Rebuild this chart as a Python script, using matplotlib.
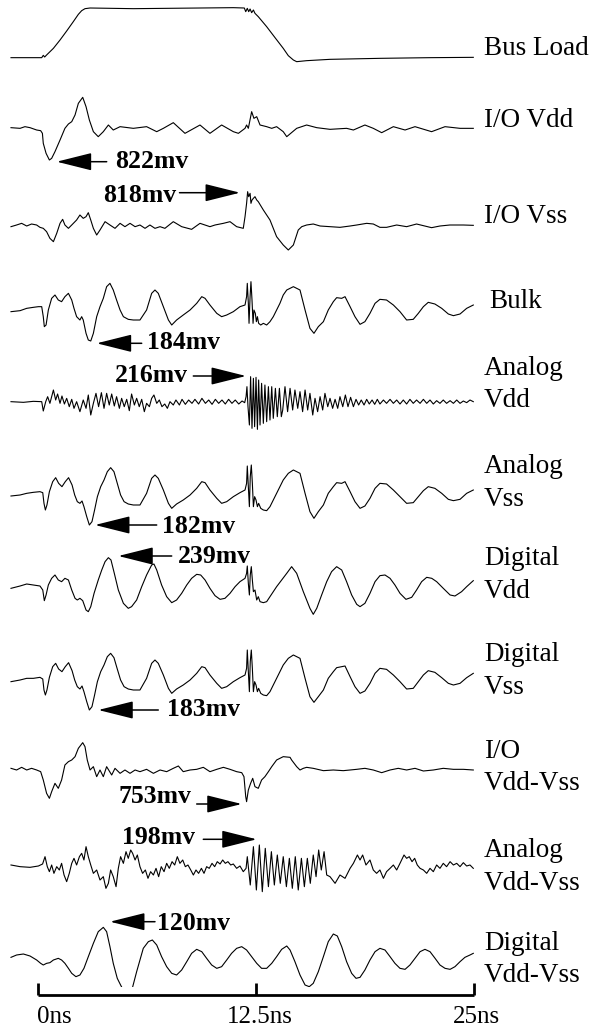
import matplotlib
matplotlib.use('Agg')
import matplotlib.pyplot as plt
from matplotlib.patches import Rectangle

# ---- data: time (ns) and relative amplitude ----
BUS_T = [-1.53, 0.23, 0.32, 0.40, 0.51, 0.90, 1.28, 1.66, 2.04, 2.33, 2.52, 2.71, 3.00, 5.48, 7.39, 9.30, 11.21, 11.84, 11.92, 12.01,
         12.09, 12.17, 12.26, 12.36, 12.45, 12.64, 13.12, 13.60, 14.07, 14.36, 14.65, 14.84, 15.41, 16.75, 19.61, 22.48, 24.96]
BUS_V = [0, 0, 7, 2, 8, 28, 53, 80, 108, 130, 141, 147, 149, 147, 148, 149, 150, 149, 138, 148,
         138, 146, 135, 143, 133, 123, 93, 60, 28, 6, -7, -12, -9, -5, -2, 0, 1]

IOVDD_T = [-1.53, -1.01, -0.73, -0.44, -0.06, 0.17, 0.27, 0.32, 0.48, 0.67, 0.80, 0.99, 1.28, 1.56, 1.76, 1.95, 2.14, 2.33, 2.58, 2.77,
           2.96, 3.19, 3.47, 3.76, 4.05, 4.33, 4.72, 5.48, 6.24, 6.82, 7.20, 7.77, 8.44, 9.30, 9.87, 10.54, 11.21, 11.50, 11.88, 11.97,
           12.07, 12.26, 12.39, 12.55, 12.74, 13.12, 13.41, 13.69, 14.07, 14.27, 14.84, 15.41, 15.99, 16.75, 17.70, 18.09, 18.75, 19.23,
           19.71, 20.38, 21.05, 21.62, 22.57, 23.34, 24.20, 24.96]
IOVDD_V = [0, -2, 3, 0, -7, -9, -17, -47, -77, -97, -92, -72, -37, -2, 11, 18, 38, 73, 91, 63,
           23, -12, -27, -12, 8, -7, 3, -2, 3, -12, -2, 15, -17, 8, -17, 8, -12, -17, -2, 8,
           -2, 48, 28, 33, 8, 3, -2, 3, -12, -27, -2, 8, 0, -5, -2, -7, 8, -2,
           -15, 3, -7, 3, -12, 3, -2, -2]

IOVSS_T = [-1.53, -1.21, -0.92, -0.63, -0.35, -0.06, 0.13, 0.32, 0.51, 0.70, 0.90, 1.09, 1.28, 1.43, 1.56, 1.76, 1.95, 2.23, 2.42, 2.61,
           2.77, 2.90, 3.04, 3.19, 3.38, 3.57, 3.86, 4.14, 4.43, 4.72, 5.00, 5.29, 5.58, 5.86, 6.15, 6.43, 6.72, 7.01, 7.29, 7.77,
           8.25, 8.82, 9.30, 9.87, 10.16, 10.64, 11.02, 11.40, 11.78, 11.88, 11.97, 12.03, 12.09, 12.17, 12.22, 12.28, 12.36, 12.45, 12.55, 12.64,
           12.93, 13.31, 13.69, 14.07, 14.36, 14.65, 14.93, 15.13, 15.41, 15.79, 16.18, 16.75, 17.32, 17.90, 18.28, 18.85, 19.23, 19.61, 19.99, 20.57,
           21.14, 21.71, 22.10, 22.57, 23.05, 23.62, 24.39, 24.96]
IOVSS_V = [0, 5, 10, 2, 8, 5, -2, -5, -15, -35, -45, -20, 10, 22, 5, -5, 5, 20, 35, 25,
           30, 42, 20, -5, -25, -10, 15, 5, -5, 10, 0, 10, 0, 5, -5, 5, -5, 0, -5, 15,
           0, -8, 10, 0, 5, 10, 15, 0, -5, 30, 70, 105, 90, 100, 70, 80, 85, 90, 80, 75,
           50, 20, -30, -55, -70, -55, -10, 0, 5, 8, 2, 0, -2, 2, 5, 10, 8, -2, -2, 5,
           0, 8, 3, -3, 2, 5, 5, 4]

BULK_T = [-1.53, -1.01, -0.63, -0.25, 0.04, 0.23, 0.32, 0.38, 0.48, 0.61, 0.80, 0.99, 1.18, 1.37, 1.56, 1.76, 1.95, 2.08, 2.23, 2.42,
          2.52, 2.61, 2.77, 2.90, 3.04, 3.19, 3.38, 3.57, 3.76, 3.95, 4.14, 4.33, 4.52, 4.72, 4.91, 5.19, 5.48, 5.86, 6.24, 6.53,
          6.72, 6.91, 7.20, 7.49, 7.68, 7.96, 8.34, 8.73, 9.11, 9.40, 9.59, 9.87, 10.26, 10.54, 10.83, 11.21, 11.59, 11.88, 11.97, 12.01,
          12.07, 12.11, 12.17, 12.22, 12.28, 12.34, 12.39, 12.47, 12.53, 12.59, 12.66, 12.78, 12.93, 13.12, 13.31, 13.50, 13.69, 13.88, 14.07, 14.27,
          14.65, 15.03, 15.32, 15.60, 15.83, 16.08, 16.37, 16.65, 16.94, 17.13, 17.42, 17.61, 17.90, 18.18, 18.47, 18.75, 19.04, 19.33, 19.61, 19.99,
          20.38, 20.76, 21.14, 21.52, 21.81, 22.10, 22.38, 22.76, 23.15, 23.53, 23.82, 24.20, 24.58, 24.96]
BULK_V = [0, 3, 10, 13, 15, 15, -15, -45, -40, 5, 40, 50, 35, 30, 45, 55, 35, 10, -15, -25,
          -15, -25, -65, -85, -88, -65, -15, 15, 40, 75, 85, 65, 35, 5, -15, -23, -25, -25, 5, 55,
          65, 55, 15, -25, -40, -25, -10, 5, 25, 45, 40, 20, -5, -15, -10, 0, 15, 20, 45, 85,
          25, -35, 45, 90, 35, -35, 5, -5, -30, -15, -35, -40, -35, -40, -30, -15, 5, 25, 50, 65,
          75, 65, 5, -50, -65, -45, -30, 5, 30, 42, 40, 45, 15, -15, -38, -30, -5, 25, 37, 35,
          20, 0, -25, -23, -5, 15, 28, 23, 10, -7, -12, -7, 10, 20]

AVDD_T = [-1.53, -0.82, -0.25, 0.23, 0.32, 0.46, 0.57, 0.70, 0.90, 1.03, 1.14, 1.28, 1.39, 1.53, 1.66, 1.81, 1.95, 2.08, 2.23, 2.42,
          2.61, 2.77, 2.90, 3.04, 3.19, 3.34, 3.49, 3.65, 3.80, 3.95, 4.10, 4.24, 4.39, 4.52, 4.68, 4.81, 4.96, 5.10, 5.25, 5.38,
          5.54, 5.67, 5.82, 5.96, 6.11, 6.24, 6.40, 6.53, 6.66, 6.82, 6.97, 7.12, 7.28, 7.43, 7.58, 7.77, 7.92, 8.12, 8.27, 8.46,
          8.65, 8.84, 9.01, 9.22, 9.41, 9.61, 9.80, 9.99, 10.18, 10.37, 10.56, 10.75, 10.94, 11.13, 11.32, 11.52, 11.71, 11.86, 11.94, 11.99,
          12.05, 12.13, 12.20, 12.28, 12.36, 12.43, 12.51, 12.59, 12.66, 12.74, 12.83, 12.93, 13.02, 13.12, 13.22, 13.31, 13.41, 13.50, 13.62, 13.73,
          13.85, 13.96,
          14.04, 14.17, 14.32, 14.46, 14.61, 14.74, 14.90, 15.03, 15.18, 15.32, 15.47, 15.60, 15.76, 15.89, 16.04, 16.18, 16.33, 16.46, 16.62, 16.75,
          16.90, 17.04, 17.19, 17.32, 17.48, 17.63, 17.78, 17.93, 18.09, 18.24, 18.39, 18.54, 18.70, 18.85, 19.00, 19.16, 19.31, 19.46, 19.61, 19.81,
          19.99, 20.19, 20.38, 20.57, 20.76, 20.95, 21.14, 21.33, 21.52, 21.71, 21.91, 22.10, 22.29, 22.48, 22.67, 22.86, 23.05, 23.24, 23.43, 23.63,
          23.82, 24.01, 24.20, 24.39, 24.58, 24.77, 24.96]
AVDD_V = [0, -2, 1, 0, -28, 0, 15, -5, 35, 5, 23, -5, 17, -7, 10, -15, 7, -20, 0, -30,
          5, -20, 20, -40, -5, 25, -15, 27, -20, 25, -10, 23, -13, 15, -20, 10, -15, 7, -27, 23,
          -10, 10, -15, 7, -30, -5, -15, 10, 20, -5, 5, -15, -7, -20, 0, -10, 5, -10, 7, -8,
          5, -5, 7, -7, 10, -5, 5, -8, 7, -5, 5, -7, 7, -5, 5, -7, 2, -3, 15, 45,
          -15, -70, 75, -80, 70, -75, 73, -83, 65, -70, 55, -65, 50, -60, 45, -55, 45, -50, 40, -45,
          40, -45,
          -25, 45, -30, 40, -25, 35, -20, 30, -30, 35, -25, 25, -40, 10, -30, 15, -25, 25, -15, 10,
          -20, 7, -20, 15, -15, 20, -15, 13, -15, 7, -10, 5, -10, 7, -7, 5, -8, 7, -7, 5,
          -5, 7, -5, 5, -7, 5, -7, 7, -5, 5, -5, 7, -5, 5, -7, 3, -5, 5, -5, 3,
          -5, 5, -5, 2, -3, 5, 0]

# Analog Vss and Digital Vss share the same sample times
VSS_T = [-1.53, -1.01, -0.63, -0.25, 0.13, 0.29, 0.36, 0.44, 0.53, 0.67, 0.86, 1.03, 1.20, 1.39, 1.58, 1.77, 1.97, 2.12, 2.27, 2.42,
         2.54, 2.65, 2.81, 2.96, 3.11, 3.26, 3.42, 3.61, 3.80, 3.99, 4.18, 4.37, 4.56, 4.75, 4.95, 5.19, 5.48, 5.86, 6.24, 6.53,
         6.72, 6.91, 7.20, 7.49, 7.68, 7.96, 8.34, 8.73, 9.11, 9.40, 9.59, 9.87, 10.26, 10.54, 10.83, 11.21, 11.59, 11.88, 11.97, 12.01,
         12.07, 12.13, 12.18, 12.24, 12.30, 12.36, 12.43, 12.51, 12.59, 12.66, 12.78, 12.93, 13.12, 13.31, 13.50, 13.69, 13.88, 14.07, 14.36,
         14.65, 15.03, 15.32, 15.60, 15.83, 16.08, 16.37, 16.65, 16.94, 17.13, 17.42, 17.61, 17.90, 18.18, 18.47, 18.75, 19.04, 19.33, 19.61, 19.99,
         20.38, 20.76, 21.14, 21.52, 21.81, 22.10, 22.38, 22.76, 23.15, 23.53, 23.82, 24.20, 24.58, 24.96]
AVSS_V = [0, 3, 8, 11, 13, 10, -22, -42, -27, 13, 43, 55, 38, 28, 43, 55, 33, 3, -17, -22,
          -15, -32, -62, -87, -77, -42, -2, 28, 48, 73, 85, 73, 38, 3, -17, -24, -27, -27, 8, 53,
          63, 53, 18, -22, -37, -24, -12, 3, 23, 43, 40, 18, -7, -22, -17, -2, 10, 18, 38, 90,
          28, -32, 58, 93, 38, -32, -2, -12, -32, -22, -37, -42, -44, -32, -12, 8, 28, 48, 68,
          78, 68, 8, -47, -67, -47, -27, 8, 28, 40, 38, 43, 13, -17, -37, -30, -7, 23, 38, 36,
          18, -2, -22, -20, -2, 16, 28, 23, 8, -10, -14, -10, 8, 18]
DVSS_V = [0, 5, 10, 10, 13, 8, -25, -40, -25, 13, 45, 55, 38, 30, 45, 57, 33, 5, -15, -22,
          -13, -30, -60, -85, -75, -40, 0, 30, 50, 75, 85, 72, 38, 5, -15, -22, -25, -25, 10, 55,
          65, 55, 20, -20, -35, -22, -10, 5, 25, 45, 42, 20, -5, -20, -15, 0, 12, 20, 40, 95,
          30, -30, 60, 95, 40, -30, 0, -10, -30, -20, -35, -40, -42, -30, -10, 10, 30, 50, 70,
          80, 70, 10, -45, -62, -45, -25, 10, 30, 42, 45, 47, 15, -15, -35, -28, -5, 25, 40, 37,
          20, 0, -22, -20, 0, 20, 33, 28, 12, -5, -10, -5, 12, 25]

DVDD_T = [-1.53, -1.01, -0.63, -0.25, 0.13, 0.29, 0.38, 0.48, 0.61, 0.80, 0.99, 1.18, 1.37, 1.56, 1.76, 1.95, 2.14, 2.27, 2.42, 2.58,
          2.77, 2.90, 3.04, 3.23, 3.47, 3.67, 3.86, 4.05, 4.20, 4.39, 4.62, 4.91, 5.19, 5.38, 5.67, 5.96, 6.24, 6.53, 6.66, 6.82,
          7.10, 7.39, 7.68, 7.96, 8.25, 8.54, 8.82, 9.11, 9.34, 9.59, 9.87, 10.16, 10.45, 10.73, 11.02, 11.31, 11.59, 11.88, 11.97, 12.01,
          12.07, 12.13, 12.18, 12.24, 12.30, 12.36, 12.45, 12.55, 12.64, 12.74, 12.93, 13.12, 13.31, 13.50, 13.69, 13.98, 14.27,
          14.55, 14.84, 15.22, 15.60, 15.79, 15.99, 16.27, 16.56, 16.84, 17.13, 17.42, 17.70, 17.99, 18.28, 18.47, 18.75, 19.04, 19.33, 19.61, 19.90,
          20.19, 20.47, 20.76, 21.10, 21.43, 21.71, 22.00, 22.29, 22.58, 22.86, 23.24, 23.63, 23.91, 24.29, 24.58, 24.96]
DVDD_V = [-3, 4, 10, 7, 4, -8, -40, -23, 7, 27, 37, 22, 17, 27, 22, -8, -33, -38, -33, -40,
          -68, -73, -58, -18, 22, 52, 77, 89, 82, 42, -8, -48, -63, -58, -38, 2, 37, 67, 70, 52,
          7, -28, -46, -38, -18, 7, 27, 39, 37, 22, -3, -25, -36, -33, -18, 2, 17, 27, 42, 64,
          12, -23, 37, 62, 22, -13, -8, -38, -28, -43, -46, -43, -28, -13, 2, 22, 42,
          62, 42, -13, -63, -81, -63, -23, 17, 47, 62, 52, 17, -23, -51, -58, -48, -18, 17, 35, 37,
          27, 7, -18, -36, -30, -8, 17, 30, 27, 17, -3, -23, -26, -13, 2, 20]

IODIFF_T = [-1.53, -1.21, -0.92, -0.63, -0.35, -0.06, 0.17, 0.32, 0.51, 0.67, 0.80, 0.99, 1.18, 1.37, 1.56, 1.76, 1.95, 2.14, 2.33, 2.58,
            2.71, 2.84, 3.00, 3.19, 3.38, 3.57, 3.76, 3.95, 4.24, 4.43, 4.72, 5.00, 5.29, 5.58, 5.86, 6.24, 6.63, 7.01, 7.39, 7.77,
            8.06, 8.34, 8.73, 9.11, 9.49, 9.87, 10.26, 10.64, 11.02, 11.40, 11.69, 11.82, 11.92, 11.97, 12.07, 12.20, 12.32, 12.45, 12.64, 12.83,
            13.02, 13.22, 13.41, 13.69, 14.07, 14.46,
            14.55, 14.84, 15.03, 15.22, 15.41, 15.79, 16.37, 16.94, 17.51, 17.90, 18.28, 18.75, 19.23, 19.71, 20.19, 20.66, 21.14, 21.62, 22.10, 22.67,
            23.24, 23.82, 24.39, 24.96]
IODIFF_V = [0, -5, 3, -5, 0, -5, -10, -35, -75, -90, -70, -45, -60, -35, 10, 20, 25, 35, 60, 77,
            65, 25, -5, 5, -25, -5, -25, 5, -20, 0, -15, -5, -15, -5, -10, -3, -15, -5, -10, 0,
            7, -10, -5, -3, 3, -10, -3, 3, -3, -10, -13, -25, -85, -100, -65, -45, -30, -55, -60, -35,
            -25, -10, 5, 25, 35, 33,
            25, 5, -5, 0, 3, 0, -7, -5, -7, -5, -3, 0, -5, -13, -5, 0, -5, 0, -8, -5,
            0, -3, -3, -5]

ADIFF_T = [-1.53, -1.01, -0.44, 0.04, 0.28, 0.42, 0.55, 0.67, 0.80, 0.93, 1.09, 1.24, 1.37, 1.51, 1.66, 1.81, 1.95, 2.08, 2.23, 2.39,
           2.52, 2.65, 2.77, 2.90, 3.04, 3.19, 3.38, 3.57, 3.76, 3.91, 4.05, 4.18, 4.33, 4.49, 4.62, 4.75, 4.91, 5.06, 5.19, 5.33,
           5.44, 5.58, 5.71, 5.86, 6.01, 6.17, 6.32, 6.47, 6.63, 6.78, 6.93, 7.08, 7.24, 7.39, 7.54, 7.70, 7.85, 8.00, 8.15, 8.31,
           8.46, 8.61, 8.77, 8.92, 9.07, 9.22, 9.38, 9.53, 9.68, 9.83, 9.99, 10.14, 10.29, 10.45, 10.60, 10.75, 10.90, 11.06, 11.21, 11.40,
           11.59, 11.78, 11.94,
           12.01, 12.18, 12.36, 12.53, 12.70, 12.87, 13.04, 13.22, 13.39, 13.56, 13.73, 13.90, 14.07, 14.25, 14.42, 14.59, 14.76, 14.93,
           15.11, 15.28, 15.45, 15.62, 15.79, 15.95, 16.10, 16.25, 16.41, 16.56,
           16.75, 17.04, 17.32, 17.61, 17.90, 18.09, 18.32, 18.47, 18.62, 18.81, 19.04, 19.23, 19.42, 19.61, 19.81, 19.99, 20.19, 20.38, 20.57, 20.76,
           20.99, 21.14, 21.29, 21.45, 21.60, 21.75, 21.91, 22.10, 22.29, 22.48, 22.67, 22.86, 23.05, 23.24, 23.43, 23.63, 23.82, 24.01, 24.20, 24.39,
           24.58, 24.77, 24.96]
ADIFF_V = [0, -5, -7, -3, 3, 25, -5, -20, 0, -25, -5, -15, 5, -30, -50, -25, 5, 20, 0, 25,
           35, 15, 55, 25, 0, -25, -15, -45, -35, -70, -55, -15, -35, -65, -10, 25, 5, 40, 20, 45,
           35, 15, 30, -5, -25, -15, -40, -20, -30, -10, -35, -5, -20, 5, -10, 10, 0, 25, 5, 15,
           -5, 0, -15, -30, -15, -25, -10, -25, -5, -10, 5, -5, 10, 3, 15, 5, 10, 0, 3, -10,
           -3, -20, -10,
           25, -60, 55, -75, 60, -80, 50, -65, 40, -60, 30, -55, 25, -65, 20, -70, 25, -75,
           20, -65, 20, -55, 30, -35, 45, -15, 40, -30,
           -35, -55, -30, -40, -10, 5, 30, 15, 30, 0, 15, -15, -25, -15, -40, -20, -10, 0, -15, 5,
           30, 20, 25, 10, 20, 0, -10, -15, -25, -10, -20, 0, -10, 5, -5, 10, 0, 5, -5, 7,
           -3, 0, -10]

DDIFF_T = [-1.53, -1.21, -0.82, -0.44, -0.06, 0.17, 0.32, 0.51, 0.70, 0.90, 1.18, 1.37, 1.56, 1.76, 1.95, 2.19, 2.42, 2.65, 2.90, 3.19,
           3.47, 3.76, 3.95, 4.14, 4.33, 4.56, 4.75, 4.95, 5.16, 5.37, 5.52, 5.67, 5.86, 6.05, 6.34, 6.57, 6.82, 7.10, 7.39, 7.68,
           7.96, 8.25, 8.54, 8.82, 9.11, 9.40, 9.68, 9.97, 10.26, 10.54, 10.83, 11.11, 11.40, 11.69, 11.97, 12.26, 12.55, 12.83, 13.12, 13.41,
           13.69, 13.98, 14.27,
           14.46, 14.74, 15.03, 15.32, 15.56, 15.79, 16.08, 16.37, 16.65, 16.94, 17.17, 17.42, 17.70, 17.99, 18.24, 18.47, 18.75, 19.04, 19.33, 19.61,
           19.90, 20.19, 20.47, 20.76, 21.05, 21.33, 21.62, 21.91, 22.19, 22.48, 22.77, 23.05, 23.34, 23.63, 23.91, 24.20, 24.48, 24.77, 24.96]
DDIFF_V = [-2, 5, 8, 2, -10, -20, -25, -20, -18, -10, -5, -10, -20, -35, -50, -60, -55, -35, 0, 40,
           75, 88, 75, 30, -20, -65, -85, -105, -120, -105, -75, -45, -10, 25, 45, 50, 35, 0, -30, -50,
           -55, -40, -15, 10, 22, 15, -5, -25, -35, -30, -10, 10, 25, 30, 20, 0, -20, -35, -35, -20,
           0, 22, 32,
           20, -15, -55, -85, -90, -80, -45, 0, 45, 68, 62, 30, -15, -50, -65, -62, -40, -10, 15, 25,
           20, 0, -20, -35, -38, -25, -5, 15, 22, 15, -5, -25, -35, -38, -30, -15, -2, 5, 10]

TRACES = [(BUS_T, BUS_V), (IOVDD_T, IOVDD_V), (IOVSS_T, IOVSS_V), (BULK_T, BULK_V),
          (AVDD_T, AVDD_V), (VSS_T, AVSS_V), (DVDD_T, DVDD_V), (VSS_T, DVSS_V),
          (IODIFF_T, IODIFF_V), (ADIFF_T, ADIFF_V), (DDIFF_T, DDIFF_V)]

LABELS = [["Bus Load"], ["I/O Vdd"], ["I/O Vss"], ["Bulk"], ["Analog", "Vdd"], ["Analog", "Vss"],
          ["Digital", "Vdd"], ["Digital", "Vss"], ["I/O", "Vdd-Vss"], ["Analog", "Vdd-Vss"], ["Digital", "Vdd-Vss"]]

PEAKS = ["822mv", "818mv", "184mv", "216mv", "182mv", "239mv", "183mv", "753mv", "198mv", "120mv"]

TICKS = [0, 12.5, 25]
TICK_LABELS = ["0ns", "12.5ns", "25ns"]

# ---- layout (image pixels) ----
W, H = 589, 1028
ROWS = [57.67, 127.67, 226.67, 311.67, 401.67, 496.0, 587.33, 681.67, 768.33, 865.0, 956.67]
SCALE = 1 / 3
LABEL_POS = [(484, 55), (484, 127), (484, 223), (489, 308), (484, 375), (484, 473),
             (484, 565), (484, 661), (484, 758), (484, 857), (484, 950)]
LINE_GAP = 32.5
# text x, text baseline, arrow tail x, arrow tip x, arrow y
PEAK_POS = [(115, 168.3, 106.7, 56.7, 161.7), (102.7, 201.7, 179.5, 240, 192.7),
            (146.7, 349.3, 141.7, 96.7, 343.3), (115, 381.7, 193.3, 246, 376),
            (161.7, 532.7, 156.7, 95, 525), (178.3, 563.3, 171.7, 118.3, 556),
            (166.7, 716, 158.3, 98.3, 710), (118.3, 802.7, 196.7, 241.7, 804),
            (121.7, 844, 203.3, 256.7, 839.3), (156.7, 930, 155, 110, 921.7)]
AXIS_ROW = 995
TICK_TOP = 983
TICK_LABEL_POS = [(36.7, 1023), (226.7, 1023), (453, 1023)]
FONT = "Liberation Serif"

fig = plt.figure(figsize=(W / 100, H / 100), dpi=100)
ax = fig.add_axes([0, 0, 1, 1])
ax.set_xlim(-2.160, 31.59)
ax.set_ylim(H, 0)
ax.axis('off')

for i, ((t, v), row) in enumerate(zip(TRACES, ROWS)):
    y = [row - SCALE * a for a in v]
    line, = ax.plot(t, y, color='black', lw=0.8)
    if i == len(TRACES) - 1:
        # bottom trace is cut off just above the time axis
        clip = Rectangle((-5, 0), 40, 987, transform=ax.transData)
        line.set_clip_path(clip)

# time axis
ax.plot([TICKS[0], TICKS[-1]], [AXIS_ROW, AXIS_ROW], color='black', lw=2, solid_capstyle='butt')
ax.vlines(TICKS, TICK_TOP, AXIS_ROW, color='black', lw=2)
for lab, (x, y) in zip(TICK_LABELS, TICK_LABEL_POS):
    fig.text(x / W, 1 - y / H, lab, family=FONT, fontsize=18, ha='left', va='baseline')

# trace names
for lines, (x, y) in zip(LABELS, LABEL_POS):
    for k, s in enumerate(lines):
        fig.text(x / W, 1 - (y + k * LINE_GAP) / H, s, family=FONT, fontsize=19.5,
                 ha='left', va='baseline')

# peak annotations
for s, (tx, ty, ax0, ax1, ay) in zip(PEAKS, PEAK_POS):
    fig.text(tx / W, 1 - ty / H, s, family=FONT, fontsize=18.5, fontweight='bold',
             ha='left', va='baseline')
    ax.annotate('', xy=(ax1, H - ay), xycoords='figure pixels',
                xytext=(ax0, H - ay), textcoords='figure pixels',
                arrowprops=dict(arrowstyle='-|>,head_length=2.2,head_width=0.55',
                                mutation_scale=10, color='black', lw=1.1,
                                shrinkA=0, shrinkB=0))

fig.savefig('out.png', dpi=100)
